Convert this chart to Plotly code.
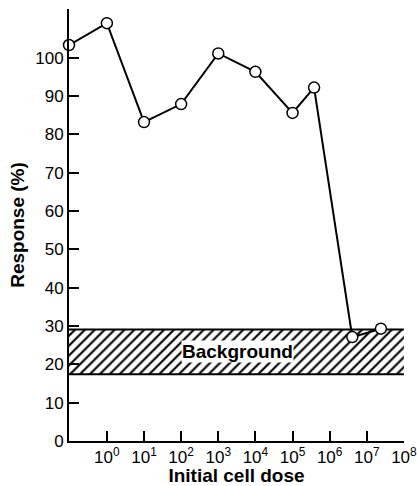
import plotly.graph_objects as go

# Data
dose = [10**-1.02, 10**0, 10**1, 10**2, 10**3, 10**4, 10**5, 10**5.58, 10**6.61, 10**7.38]
response = [103.3, 109.0, 83.2, 87.9, 101.1, 96.3, 85.6, 92.2, 27.1, 29.3]

band_x = [10**-1.02, 10**8]
band_low = 17.4
band_high = 29.1
band_label = "Background"

tick_vals = [10**k for k in range(0, 9)]
tick_text = ["10<sup>%d</sup>" % k for k in range(0, 9)]
y_ticks = list(range(0, 101, 10))

FONT = "Liberation Sans, Arial, sans-serif"

fig = go.Figure()

# Background band (hatched)
fig.add_trace(go.Scatter(
    x=band_x, y=[band_low, band_low], mode="lines",
    line=dict(color="black", width=2), showlegend=False, hoverinfo="skip"))
fig.add_trace(go.Scatter(
    x=band_x, y=[band_high, band_high], mode="lines",
    line=dict(color="black", width=2), fill="tonexty",
    fillcolor="white",
    fillpattern=dict(shape="/", fgcolor="black", fgopacity=1, bgcolor="white", size=7, solidity=0.3),
    showlegend=False, hoverinfo="skip"))

# Response curve
fig.add_trace(go.Scatter(
    x=dose, y=response, mode="lines+markers",
    line=dict(color="black", width=2),
    marker=dict(symbol="circle", size=11, color="white", line=dict(color="black", width=1.5)),
    showlegend=False, cliponaxis=False))

fig.add_annotation(
    x=3.53, y=(band_low + band_high) / 2, xref="x", yref="y",
    text="<b>%s</b>" % band_label, showarrow=False,
    font=dict(family=FONT, size=19, color="black"),
    bgcolor="white", borderpad=0)

fig.update_layout(
    width=417, height=486,
    margin=dict(l=69, r=13, t=9, b=45),
    paper_bgcolor="white", plot_bgcolor="white",
    font=dict(family=FONT, color="black", size=17),
)

fig.update_xaxes(
    type="log", range=[-1.02, 8.002], automargin=False,
    tickmode="array", tickvals=tick_vals, ticktext=tick_text,
    ticklabeloverflow="allow",
    ticks="inside", ticklen=10, tickwidth=2, tickcolor="black",
    showline=True, linewidth=2, linecolor="black",
    showgrid=False, zeroline=False,
    tickfont=dict(family=FONT, size=17, color="black"),
    title=dict(text="<b>Initial cell dose</b>", font=dict(family=FONT, size=19, color="black"), standoff=10),
)

fig.update_yaxes(
    range=[0, 112.7], automargin=False,
    tickmode="array", tickvals=y_ticks,
    ticks="inside", ticklen=10, tickwidth=2, tickcolor="black",
    showline=True, linewidth=2, linecolor="black",
    showgrid=False, zeroline=False,
    tickfont=dict(family=FONT, size=17, color="black"),
    title=dict(text="<b>Response (%)</b>", font=dict(family=FONT, size=19, color="black"), standoff=6),
)

fig.write_html(
    "out.html",
    config={"displayModeBar": False},
    post_script="document.body.style.margin='0';document.body.style.overflow='hidden';",
)
